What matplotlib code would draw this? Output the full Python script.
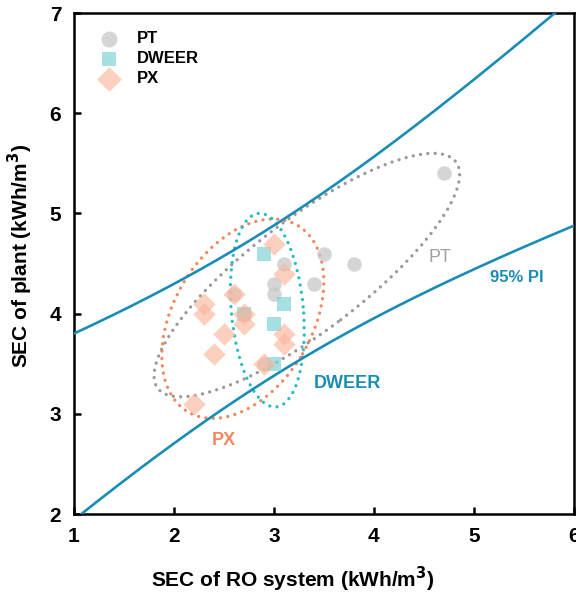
import numpy as np
import matplotlib
matplotlib.use('Agg')
import matplotlib.pyplot as plt
from matplotlib.patches import Ellipse

plt.rcParams['font.family'] = ['Liberation Sans', 'DejaVu Sans']

# ---- data ----
pt_x = [4.7, 3.5, 3.8, 3.1, 3.4, 3.0, 3.0, 2.6, 2.7, 2.9]
pt_y = [5.4, 4.6, 4.5, 4.5, 4.3, 4.3, 4.2, 4.2, 4.0, 3.5]

dweer_x = [2.9, 3.1, 3.0, 3.0, 2.7]
dweer_y = [4.6, 4.1, 3.9, 3.5, 4.0]

px_x = [3.0, 3.1, 2.3, 2.3, 2.6, 2.7, 2.7, 2.5, 3.1, 3.1, 2.4, 2.9, 2.2]
px_y = [4.7, 4.4, 4.1, 4.0, 4.2, 4.0, 3.9, 3.8, 3.8, 3.7, 3.6, 3.5, 3.1]

# 95% prediction interval: fit y = a + b*x, half width k*sqrt(1 + (x-xm)^2/sxx)
pi_a, pi_b = 2.24, 0.63
pi_k, pi_xm, pi_sxx = 0.75, 2.95, 7.07

# confidence ellipses: (cx, cy, width, height, angle)
ell_pt = (3.33, 4.385, 3.74, 1.12, 37.2)
ell_dweer = (2.935, 4.035, 1.94, 0.72, 95.2)
ell_px = (2.69, 3.95, 2.16, 1.385, 59.6)

c_line = '#1a8db6'
c_pt, c_pt_ell = '#c8c8c8', '#9a9a9a'
c_dw, c_dw_ell = '#7fd3d6', '#2bbcc4'
c_px, c_px_ell = '#fbb69d', '#f4875f'

fig = plt.figure(figsize=(5.76, 5.97), dpi=100)
ax = fig.add_axes([0.128, 0.139, 0.8685, 0.839])

# PI curves
xs = np.linspace(1, 6, 200)
yc = pi_a + pi_b * xs
hw = pi_k * np.sqrt(1 + (xs - pi_xm) ** 2 / pi_sxx)
ax.plot(xs, yc + hw, color=c_line, lw=1.9, zorder=4)
ax.plot(xs, yc - hw, color=c_line, lw=1.9, zorder=4)

# ellipses
for (cx, cy, w, h, ang), col in [(ell_pt, c_pt_ell), (ell_px, c_px_ell), (ell_dweer, c_dw_ell)]:
    e = Ellipse((cx, cy), w, h, angle=ang, fill=False, edgecolor=col, lw=2.4,
                linestyle=(0, (0.01, 2.2)), capstyle='round', zorder=3)
    ax.add_patch(e)

# points
ax.scatter(pt_x, pt_y, s=110, marker='o', color=c_pt, alpha=0.75, lw=0, zorder=5, label='PT')
ax.scatter(dweer_x, dweer_y, s=95, marker='s', color=c_dw, alpha=0.7, lw=0, zorder=5, label='DWEER')
ax.scatter(px_x, px_y, s=130, marker='D', color=c_px, alpha=0.65, lw=0, zorder=5, label='PX')

# labels in plot
ax.text(4.66, 4.56, 'PT', color='#a0a0a0', fontsize=13, ha='center', va='center')
ax.text(5.43, 4.36, '95% PI', color=c_line, fontsize=12, fontweight='bold', ha='center', va='center')
ax.text(3.74, 3.30, 'DWEER', color=c_line, fontsize=13, fontweight='bold', ha='center', va='center')
ax.text(2.50, 2.73, 'PX', color=c_px_ell, fontsize=13, fontweight='bold', ha='center', va='center')

ax.set_xlim(1, 6)
ax.set_ylim(2, 7)
ax.set_xticks(range(1, 7))
ax.set_yticks(range(2, 8))
ax.tick_params(direction='in', length=5, width=1.8, labelsize=15, pad=9)
for lab in ax.get_xticklabels() + ax.get_yticklabels():
    lab.set_fontweight('bold')
for sp in ax.spines.values():
    sp.set_linewidth(1.8)

ax.set_xlabel('SEC of RO system (kWh/m$^\\mathbf{3}$)', fontsize=15, fontweight='bold')
ax.set_ylabel('SEC of plant (kWh/m$^\\mathbf{3}$)', fontsize=15, fontweight='bold')
ax.xaxis.set_label_coords(0.438, -0.102)
ax.yaxis.set_label_coords(-0.078, 0.515)

leg = ax.legend(loc='upper left', frameon=False, handletextpad=0.7, markerscale=1.1,
                labelspacing=0.3, borderaxespad=0.5, borderpad=0.6,
                prop={'weight': 'bold', 'size': 12})

fig.savefig('out.png', dpi=100)
